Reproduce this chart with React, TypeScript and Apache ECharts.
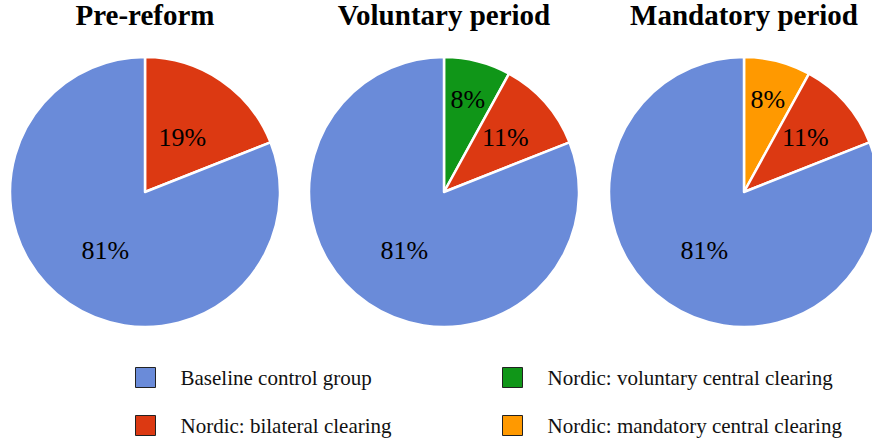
import React, { useEffect, useRef } from "react";
import * as echarts from "echarts";

const titles = ["Pre-reform", "Voluntary period", "Mandatory period"];
const categories = [
  "Baseline control group",
  "Nordic: bilateral clearing",
  "Nordic: voluntary central clearing",
  "Nordic: mandatory central clearing",
];
const colors = ["#6A8BD9", "#DC3912", "#109618", "#FF9900"];
// slice order clockwise from 12 o'clock
const preReform = [
  { name: categories[1], value: 19 },
  { name: categories[0], value: 81 },
];
const voluntary = [
  { name: categories[2], value: 8 },
  { name: categories[1], value: 11 },
  { name: categories[0], value: 81 },
];
const mandatory = [
  { name: categories[3], value: 8 },
  { name: categories[1], value: 11 },
  { name: categories[0], value: 81 },
];

// layout constants
const SERIF = "'Liberation Serif', 'Times New Roman', serif";
const centersX = [145, 444, 744];
const centerY = 192;
const pieRadius = 135;
// label distance from centre as a fraction of the radius, per slice
const labelRadiusFrac = [
  [0.47, 0.5],
  [0.68, 0.58, 0.5],
  [0.68, 0.58, 0.5],
];
const legendPos = [
  { left: 135, top: 367 },
  { left: 135, top: 415 },
  { left: 502, top: 367 },
  { left: 502, top: 415 },
];

export default function App() {
  const ref = useRef<HTMLDivElement>(null);
  useEffect(() => {
    const chart = echarts.init(ref.current!, null, { renderer: "svg" });
    const datasets = [preReform, voluntary, mandatory];
    const colorOf = (name: string) => colors[categories.indexOf(name)];
    chart.setOption({
      animation: false,
      backgroundColor: "#ffffff",
      title: titles.map((t, i) => ({
        text: t,
        left: centersX[i],
        top: 0,
        padding: 0,
        textAlign: "center",
        textStyle: { fontFamily: SERIF, fontWeight: "bold", fontSize: 29, color: "#000" },
      })),
      legend: categories.map((c, i) => ({
        data: [c],
        orient: "vertical",
        left: legendPos[i].left,
        top: legendPos[i].top,
        padding: 0,
        itemWidth: 20,
        itemHeight: 20,
        icon: "rect",
        selectedMode: false,
        itemStyle: { borderColor: "#222", borderWidth: 1 },
        textStyle: { fontFamily: SERIF, fontSize: 21, color: "#111", padding: [0, 0, 5, 20] },
      })),
      series: datasets.map((d, i) => ({
        type: "pie",
        name: titles[i],
        center: [centersX[i], centerY],
        radius: pieRadius,
        startAngle: 90,
        clockwise: true,
        avoidLabelOverlap: false,
        data: d.map((p) => ({ ...p, itemStyle: { color: colorOf(p.name) } })),
        itemStyle: { borderColor: "#fff", borderWidth: 2.5 },
        label: {
          show: true,
          position: "inside",
          formatter: "{c}%",
          fontFamily: SERIF,
          fontSize: 26,
          color: "#000",
        },
        labelLine: { show: false },
        labelLayout: (params: any) => {
          const r = params.labelRect;
          const lx = r.x + r.width / 2;
          const ly = r.y + r.height / 2;
          const cx = centersX[params.seriesIndex];
          const k = labelRadiusFrac[params.seriesIndex][params.dataIndex] / 0.5;
          return {
            x: cx + (lx - cx) * k,
            y: centerY + (ly - centerY) * k,
            align: "center",
            verticalAlign: "middle",
          };
        },
        emphasis: { disabled: true },
      })),
    });
    return () => chart.dispose();
  }, []);
  return (
    <div
      ref={ref}
      style={{ position: "fixed", left: 0, top: 0, width: 872, height: 440 }}
    />
  );
}
